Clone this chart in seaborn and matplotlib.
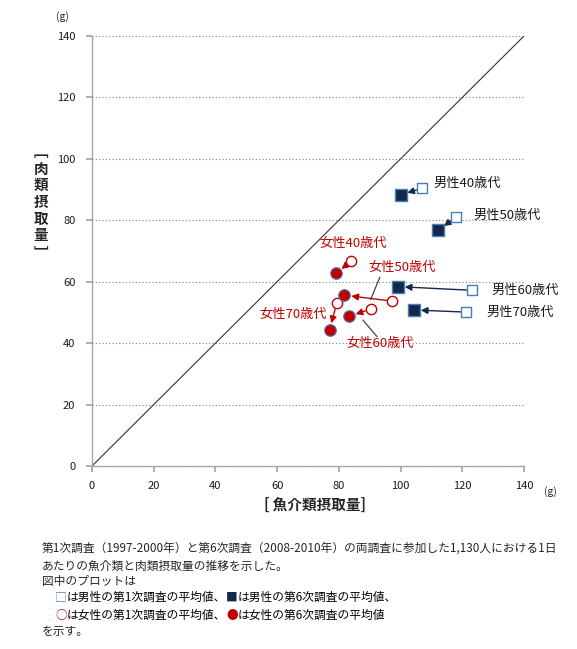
import numpy as np
import pandas as pd
import matplotlib
matplotlib.use("Agg")
import matplotlib.pyplot as plt
import seaborn as sns

# ── Data ──────────────────────────────────────────────────────────────────────
groups = ["男性40歳代", "男性50歳代", "男性60歳代", "男性70歳代",
          "女性40歳代", "女性50歳代", "女性60歳代", "女性70歳代"]
sex = ["男性"] * 4 + ["女性"] * 4
fish_1st = [107.0, 118.0, 123.2, 121.3, 83.9, 97.2, 90.3, 79.3]
meat_1st = [90.4, 81.0, 57.2, 50.1, 66.6, 53.7, 51.1, 53.0]
fish_6th = [100.0, 112.2, 99.1, 104.3, 79.1, 81.8, 83.3, 77.0]
meat_6th = [88.3, 76.8, 58.4, 50.8, 62.7, 55.6, 48.7, 44.3]
ticks = [0, 20, 40, 60, 80, 100, 120, 140]

df = pd.DataFrame({"group": groups, "sex": sex,
                   "fish_1st": fish_1st, "meat_1st": meat_1st,
                   "fish_6th": fish_6th, "meat_6th": meat_6th})

# ── Style ─────────────────────────────────────────────────────────────────────
sns.set_theme(style="white")
plt.rcParams["font.family"] = ["Noto Sans CJK JP", "DejaVu Sans"]

NAVY = "#14284B"
BLUE_EDGE = "#4A7EBB"
RED = "#C00000"
GRAY = "#A6A6A6"

# label placement (data coords) and leader lines
LABEL_POS = {
    "男性40歳代": (110.5, 92.1, "left"),
    "男性50歳代": (123.5, 81.7, "left"),
    "男性60歳代": (129.3, 57.3, "left"),
    "男性70歳代": (127.7, 50.1, "left"),
    "女性40歳代": (84.6, 72.3, "center"),
    "女性50歳代": (100.4, 64.5, "center"),
    "女性60歳代": (93.5, 40.0, "center"),
    "女性70歳代": (65.1, 49.2, "center"),
}
LEADERS = {
    "女性50歳代": ((93.3, 61.5), (90.3, 54.2)),
    "女性60歳代": ((92.4, 42.1), (87.8, 47.5)),
}

fig = plt.figure(figsize=(5.77, 6.49), dpi=100)
ax = fig.add_axes([92 / 577, 1 - 466 / 649, 432 / 577, 430 / 649])

ax.plot([0, 140], [0, 140], color="#333333", lw=0.8, zorder=1)

men = df[df["sex"] == "男性"]
women = df[df["sex"] == "女性"]

# arrows: 1st survey -> 6th survey
for _, r in df.iterrows():
    c = NAVY if r["sex"] == "男性" else RED
    ax.annotate("", xy=(r["fish_6th"], r["meat_6th"]),
                xytext=(r["fish_1st"], r["meat_1st"]),
                arrowprops=dict(arrowstyle="-|>", color=c, lw=1.0,
                                shrinkA=4, shrinkB=5, mutation_scale=10),
                zorder=2)

sns.scatterplot(data=men, x="fish_1st", y="meat_1st", marker="s", s=55,
                facecolor="white", edgecolor=BLUE_EDGE, linewidth=1.0,
                ax=ax, zorder=3)
sns.scatterplot(data=men, x="fish_6th", y="meat_6th", marker="s", s=70,
                color=NAVY, edgecolor=BLUE_EDGE, linewidth=1.0,
                ax=ax, zorder=3)
sns.scatterplot(data=women, x="fish_1st", y="meat_1st", marker="o", s=55,
                facecolor="white", edgecolor=RED, linewidth=1.0,
                ax=ax, zorder=3)
sns.scatterplot(data=women, x="fish_6th", y="meat_6th", marker="o", s=70,
                color=RED, edgecolor=BLUE_EDGE, linewidth=0.8,
                ax=ax, zorder=3)

for g, s_ in zip(groups, sex):
    x, y, ha = LABEL_POS[g]
    ax.text(x, y, g, ha=ha, va="center", fontsize=9.5,
            color="#1a1a1a" if s_ == "男性" else RED, zorder=4)
for g, (p0, p1) in LEADERS.items():
    ax.plot([p0[0], p1[0]], [p0[1], p1[1]], color="#333333", lw=0.8, zorder=2)

# axes cosmetics
ax.set_xlim(0, 140)
ax.set_ylim(0, 140)
ax.set_xticks(ticks)
ax.set_yticks(ticks)
ax.set_xlabel("")
ax.set_ylabel("")
ax.yaxis.grid(True, linestyle=(0, (1, 2)), color="#808080", lw=0.8)
ax.xaxis.grid(False)
for side in ["top", "right"]:
    ax.spines[side].set_visible(False)
for side in ["left", "bottom"]:
    ax.spines[side].set_color(GRAY)
    ax.spines[side].set_linewidth(1.0)
ax.tick_params(axis="x", direction="out", length=4, color=GRAY, pad=7,
               labelsize=8, labelcolor="#1a1a1a", bottom=True)
ax.tick_params(axis="y", direction="out", length=4, color=GRAY, pad=8,
               labelsize=8, labelcolor="#1a1a1a", left=True)

# units and axis titles
fig.text(62 / 577, 1 - 17 / 649, "(g)", fontsize=7.5, ha="center", va="center")
fig.text(550 / 577, 1 - 492 / 649, "(g)", fontsize=7.5, ha="center", va="center")
fig.text(315 / 577, 1 - 505 / 649, "[ 魚介類摂取量]", fontsize=10.5,
         fontweight="bold", ha="center", va="center")
fig.text(41 / 577, 1 - 202 / 649, "﹇\n肉\n類\n摂\n取\n量\n﹈", fontsize=10.5,
         fontweight="bold", ha="center", va="center", linespacing=1.05)

# ── Caption ───────────────────────────────────────────────────────────────────
FS = 8.45
x0 = 42 / 577
x1 = 55 / 577
lines_y = [548, 566, 582, 597, 615, 632]
fig.text(x0, 1 - lines_y[0] / 649,
         "第1次調査（1997-2000年）と第6次調査（2008-2010年）の両調査に参加した1,130人における1日",
         fontsize=FS, va="center")
fig.text(x0, 1 - lines_y[1] / 649, "あたりの魚介類と肉類摂取量の推移を示した。",
         fontsize=FS, va="center")
fig.text(x0, 1 - lines_y[2] / 649, "図中のプロットは", fontsize=FS, va="center")


def chain(y, parts):
    t = fig.text(x1, 1 - y / 649, parts[0][0], color=parts[0][1],
                 fontsize=FS, va="center")
    for txt, col in parts[1:]:
        t = ax.annotate(txt, xy=(1, 0.5), xycoords=t, va="center",
                        fontsize=FS, color=col, annotation_clip=False)


chain(lines_y[3], [("□", BLUE_EDGE), ("は男性の第1次調査の平均値、", "black"),
                   ("■", NAVY), ("は男性の第6次調査の平均値、", "black")])
chain(lines_y[4], [("○", RED), ("は女性の第1次調査の平均値、", "black"),
                   ("●", RED), ("は女性の第6次調査の平均値", "black")])

fig.text(x0, 1 - lines_y[5] / 649, "を示す。", fontsize=FS, va="center")

fig.savefig("out.png", dpi=100)
